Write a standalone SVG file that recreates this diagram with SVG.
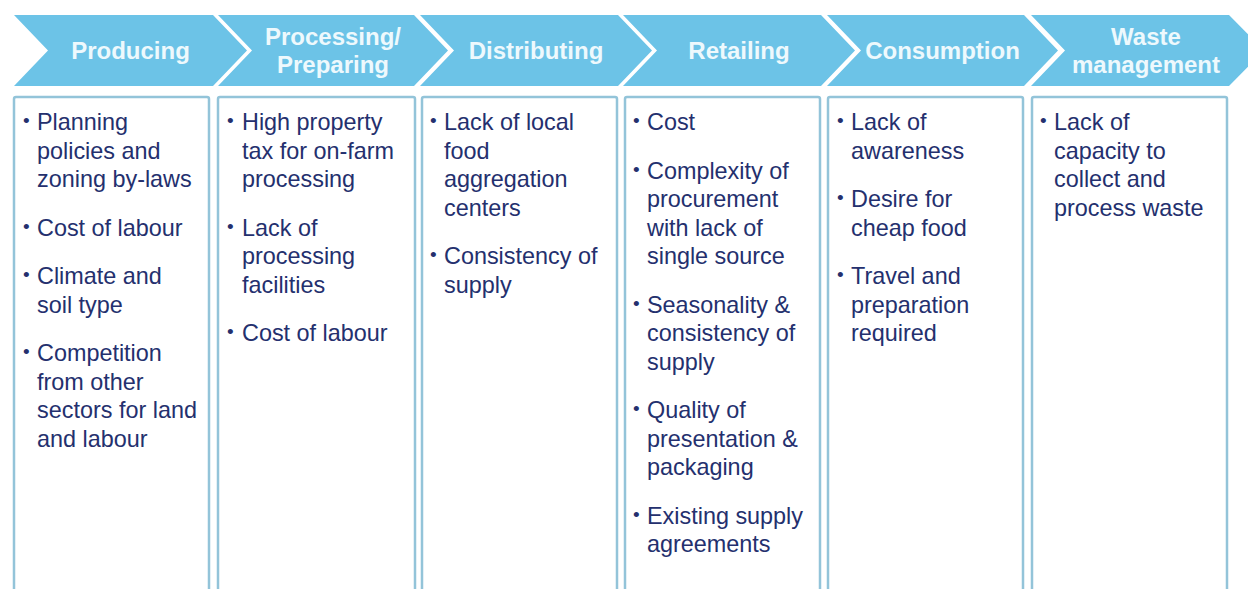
<svg xmlns="http://www.w3.org/2000/svg" width="1248" height="589" viewBox="0 0 1248 589">
<style>
.chev{fill:#6cc3e7;}
.hd{font-family:"Liberation Sans",Arial,sans-serif;font-weight:bold;font-size:24px;fill:#eef9fd;text-anchor:middle;}
.box{fill:#ffffff;stroke:#93c4d9;stroke-width:2.5;}
.tx{font-family:"Liberation Sans",Arial,sans-serif;font-size:23.4px;fill:#24306e;}
.bl{font-family:"Liberation Sans",Arial,sans-serif;font-size:19px;fill:#24306e;}
</style>
<rect width="1248" height="589" fill="#ffffff"/>
<g id="connectors"></g>
<g id="producing">
<polygon class="chev" points="14,15 213,15 247,50.5 213,86 14,86 48,50.5"/>
<text class="hd" x="130.5" y="59">Producing</text>
<rect class="box" x="14" y="97" width="195" height="520" rx="2"/>
<text class="bl" x="23" y="127">•</text><text class="tx" x="37" y="130">Planning</text>
<text class="tx" x="37" y="158.5">policies and</text>
<text class="tx" x="37" y="187">zoning by-laws</text>
<text class="bl" x="23" y="232.5">•</text><text class="tx" x="37" y="235.5">Cost of labour</text>
<text class="bl" x="23" y="281">•</text><text class="tx" x="37" y="284">Climate and</text>
<text class="tx" x="37" y="312.5">soil type</text>
<text class="bl" x="23" y="358">•</text><text class="tx" x="37" y="361">Competition</text>
<text class="tx" x="37" y="389.5">from other</text>
<text class="tx" x="37" y="418">sectors for land</text>
<text class="tx" x="37" y="446.5">and labour</text>
</g>
<g id="processing">
<polygon class="chev" points="218,15 414,15 448,50.5 414,86 218,86 252,50.5"/>
<text class="hd" x="333" y="45">Processing/</text>
<text class="hd" x="333" y="73">Preparing</text>
<rect class="box" x="218" y="97" width="197" height="520" rx="2"/>
<text class="bl" x="227" y="127">•</text><text class="tx" x="242" y="130">High property</text>
<text class="tx" x="242" y="158.5">tax for on-farm</text>
<text class="tx" x="242" y="187">processing</text>
<text class="bl" x="227" y="232.5">•</text><text class="tx" x="242" y="235.5">Lack of</text>
<text class="tx" x="242" y="264">processing</text>
<text class="tx" x="242" y="292.5">facilities</text>
<text class="bl" x="227" y="338">•</text><text class="tx" x="242" y="341">Cost of labour</text>
</g>
<g id="distributing">
<polygon class="chev" points="420,15 618,15 652,50.5 618,86 420,86 454,50.5"/>
<text class="hd" x="536" y="59">Distributing</text>
<rect class="box" x="422" y="97" width="195" height="520" rx="2"/>
<text class="bl" x="430" y="127">•</text><text class="tx" x="444" y="130">Lack of local</text>
<text class="tx" x="444" y="158.5">food</text>
<text class="tx" x="444" y="187">aggregation</text>
<text class="tx" x="444" y="215.5">centers</text>
<text class="bl" x="430" y="261">•</text><text class="tx" x="444" y="264">Consistency of</text>
<text class="tx" x="444" y="292.5">supply</text>
</g>
<g id="retailing">
<polygon class="chev" points="623,15 821,15 855,50.5 821,86 623,86 657,50.5"/>
<text class="hd" x="739" y="59">Retailing</text>
<rect class="box" x="625" y="97" width="195" height="520" rx="2"/>
<text class="bl" x="633" y="127">•</text><text class="tx" x="647" y="130">Cost</text>
<text class="bl" x="633" y="175.5">•</text><text class="tx" x="647" y="178.5">Complexity of</text>
<text class="tx" x="647" y="207">procurement</text>
<text class="tx" x="647" y="235.5">with lack of</text>
<text class="tx" x="647" y="264">single source</text>
<text class="bl" x="633" y="309.5">•</text><text class="tx" x="647" y="312.5">Seasonality &amp;</text>
<text class="tx" x="647" y="341">consistency of</text>
<text class="tx" x="647" y="369.5">supply</text>
<text class="bl" x="633" y="415">•</text><text class="tx" x="647" y="418">Quality of</text>
<text class="tx" x="647" y="446.5">presentation &amp;</text>
<text class="tx" x="647" y="475">packaging</text>
<text class="bl" x="633" y="520.5">•</text><text class="tx" x="647" y="523.5">Existing supply</text>
<text class="tx" x="647" y="552">agreements</text>
</g>
<g id="consumption">
<polygon class="chev" points="827,15 1024,15 1058,50.5 1024,86 827,86 861,50.5"/>
<text class="hd" x="942.5" y="59">Consumption</text>
<rect class="box" x="828" y="97" width="195" height="520" rx="2"/>
<text class="bl" x="837" y="127">•</text><text class="tx" x="851" y="130">Lack of</text>
<text class="tx" x="851" y="158.5">awareness</text>
<text class="bl" x="837" y="204">•</text><text class="tx" x="851" y="207">Desire for</text>
<text class="tx" x="851" y="235.5">cheap food</text>
<text class="bl" x="837" y="281">•</text><text class="tx" x="851" y="284">Travel and</text>
<text class="tx" x="851" y="312.5">preparation</text>
<text class="tx" x="851" y="341">required</text>
</g>
<g id="waste">
<polygon class="chev" points="1031,15 1229,15 1264,50.5 1229,86 1031,86 1065,50.5"/>
<text class="hd" x="1146" y="45">Waste</text>
<text class="hd" x="1146" y="73">management</text>
<rect class="box" x="1032" y="97" width="195" height="520" rx="2"/>
<text class="bl" x="1040" y="127">•</text><text class="tx" x="1054" y="130">Lack of</text>
<text class="tx" x="1054" y="158.5">capacity to</text>
<text class="tx" x="1054" y="187">collect and</text>
<text class="tx" x="1054" y="215.5">process waste</text>
</g>
</svg>
